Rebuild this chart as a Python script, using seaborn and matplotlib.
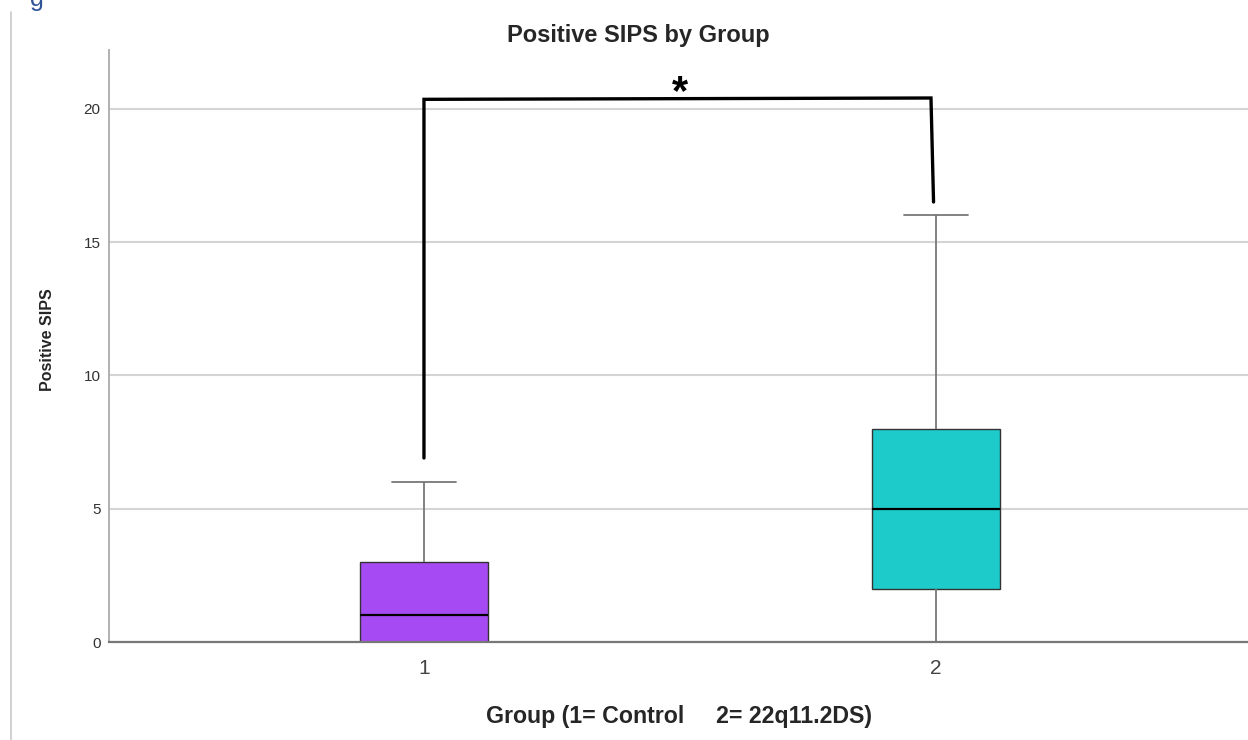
import numpy as np
import pandas as pd
import matplotlib
matplotlib.use("Agg")
import matplotlib.pyplot as plt
from matplotlib.lines import Line2D
import seaborn as sns

# five-number summaries (SPSS style boxplot)
groups = ["1", "2"]
whisker_low = [0, 0]
q1 = [0, 2]
median = [1, 5]
q3 = [3, 8]
whisker_high = [6, 16]
box_colors = ["#A64AF3", "#1DCBCB"]
y_ticks = [0, 5, 10, 15, 20]

# small sample per group whose quartiles match the summaries above
rows = []
for g, lo, a, m, b, hi in zip(groups, whisker_low, q1, median, q3, whisker_high):
    for v in [lo, a, a, m, b, b, hi]:
        rows.append({"Group": g, "Positive SIPS": v})
df = pd.DataFrame(rows)

sns.set_theme(style="white")
plt.rcParams["font.family"] = ["Liberation Sans", "DejaVu Sans"]

fig = plt.figure(figsize=(12.48, 7.40), dpi=100)
ax = fig.add_axes([109 / 1248, 1 - 642 / 740, 1 - 109 / 1248, (642 - 50) / 740])

sns.boxplot(
    data=df, x="Group", y="Positive SIPS", hue="Group", palette=box_colors,
    order=groups, width=0.25, whis=1.5, legend=False, ax=ax, saturation=1,
    linewidth=1.0, linecolor="#333333", showfliers=False,
    whiskerprops=dict(color="#777777", linewidth=1.3),
    capprops=dict(color="#777777", linewidth=1.3),
    medianprops=dict(color="#000000", linewidth=1.6),
    boxprops=dict(edgecolor="#333333", linewidth=1.0),
)

ax.set_xlim(-0.615, 1.609)
ax.set_ylim(0, 22.2)
ax.set_yticks(y_ticks)
ax.set_yticklabels([str(t) for t in y_ticks], fontsize=11, color="#333333")
ax.tick_params(axis="y", length=0, pad=6)
ax.tick_params(axis="x", length=0, pad=12, labelsize=15, labelcolor="#444444")
ax.yaxis.grid(True, color="#d4d4d4", linewidth=1.5)
ax.set_axisbelow(True)

for side in ["top", "right"]:
    ax.spines[side].set_visible(False)
ax.spines["left"].set_color("#aaaaaa")
ax.spines["left"].set_linewidth(1.3)
ax.spines["bottom"].set_color("#777777")
ax.spines["bottom"].set_linewidth(1.6)

ax.set_title("Positive SIPS by Group", fontsize=17, fontweight="bold", pad=6,
             x=0.4645)
ax.set_ylabel("Positive SIPS", fontsize=11.5, fontweight="bold")
ax.set_xlabel("Group (1= Control     2= 22q11.2DS)", fontsize=16.7,
              fontweight="bold", labelpad=20)
ax.yaxis.set_label_coords(-0.047, 0.51)

# significance bracket
bracket_y = 20.35
ax.plot([0, 0, 0.99, 0.995], [whisker_high[0] + 0.9, bracket_y, bracket_y + 0.05,
                              whisker_high[1] + 0.5],
        color="black", linewidth=2.4, solid_joinstyle="miter", clip_on=False)
ax.text(0.5, bracket_y + 0.22, "*", ha="center", va="center", fontsize=30,
        fontweight="bold", color="black")

# page border and cut-off caption from the source document
fig.add_artist(Line2D([11 / 1248, 11 / 1248], [0, 1 - 12 / 740],
                      color="#c8c8c8", linewidth=1.2))
fig.text(30 / 1248, 1 - 6 / 740, "g", fontsize=18, color="#2F5597",
         ha="left", va="baseline")

fig.savefig("out.png", dpi=100)
